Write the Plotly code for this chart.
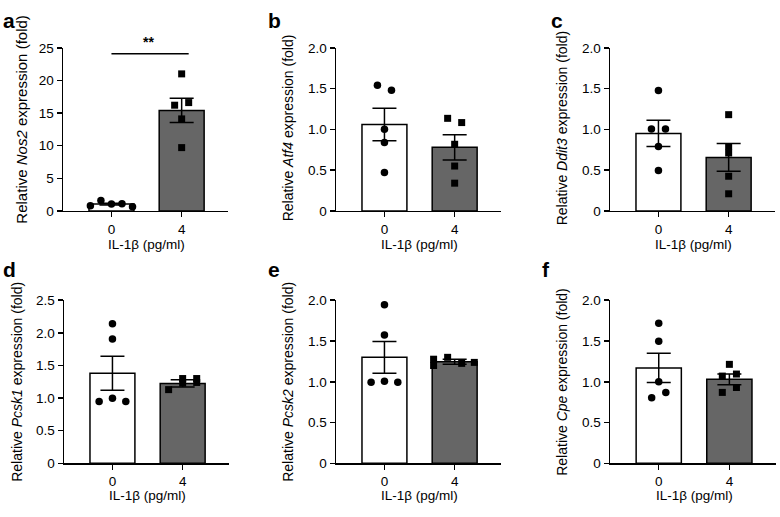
import plotly.graph_objects as go

# ---------------- data ----------------
letters = ["a", "b", "c", "d", "e", "f"]
genes = ["Nos2", "Atf4", "Ddit3", "Pcsk1", "Pcsk2", "Cpe"]
dose_labels = ["0", "4"]
x_title = "IL-1β (pg/ml)"

mean_0 = [1.04, 1.06, 0.95, 1.38, 1.30, 1.17]
mean_4 = [15.4, 0.78, 0.655, 1.225, 1.246, 1.03]
sem_0 = [0.15, 0.20, 0.16, 0.26, 0.195, 0.18]
sem_4 = [1.85, 0.155, 0.17, 0.055, 0.03, 0.065]

pts_0 = [
    [0.8, 1.6, 1.05, 1.1, 0.65],
    [1.54, 1.48, 1.00, 0.84, 0.47],
    [1.476, 1.004, 1.004, 0.79, 0.496],
    [2.14, 1.905, 0.95, 0.997, 0.95],
    [1.944, 1.575, 0.996, 1.008, 0.996],
    [1.718, 1.496, 1.0, 0.806, 0.87],
]
pts_4 = [
    [21.0, 16.2, 16.6, 14.1, 9.7],
    [1.135, 1.083, 0.817, 0.55, 0.34],
    [1.18, 0.79, 0.71, 0.425, 0.21],
    [1.13, 1.30, 1.23, 1.30, 1.24],
    [1.277, 1.30, 1.226, 1.238, 1.20],
    [1.214, 1.07, 1.095, 0.87, 0.93],
]
# horizontal scatter offsets of the dots (layout only)
jit_0 = [
    [-0.3, -0.15, 0, 0.15, 0.3],
    [-0.1, 0.1, 0, 0, 0],
    [0, -0.1, 0.1, 0, 0],
    [0, 0, -0.19, 0, 0.19],
    [0, 0, -0.19, 0, 0.19],
    [0, 0, 0, -0.1, 0.1],
]
jit_4 = [
    [0, -0.1, 0.1, 0, 0],
    [-0.1, 0.1, 0, 0, 0],
    [0, 0, 0, 0, 0],
    [-0.2, 0, 0, 0.2, 0.2],
    [-0.3, -0.1, 0.1, 0.28, -0.3],
    [0, -0.1, 0.1, -0.1, 0.1],
]
y_max = [25, 2.0, 2.0, 2.5, 2.0, 2.0]
y_ticks = [
    [0, 5, 10, 15, 20, 25],
    [0, 0.5, 1.0, 1.5, 2.0],
    [0, 0.5, 1.0, 1.5, 2.0],
    [0, 0.5, 1.0, 1.5, 2.0, 2.5],
    [0, 0.5, 1.0, 1.5, 2.0],
    [0, 0.5, 1.0, 1.5, 2.0],
]
y_ticktext = [
    ["0", "5", "10", "15", "20", "25"],
    ["0", "0.5", "1.0", "1.5", "2.0"],
    ["0", "0.5", "1.0", "1.5", "2.0"],
    ["0", "0.5", "1.0", "1.5", "2.0", "2.5"],
    ["0", "0.5", "1.0", "1.5", "2.0"],
    ["0", "0.5", "1.0", "1.5", "2.0"],
]
sig_label = "**"
sig_y = 24.1

# ---------------- layout helpers ----------------
W, H = 780, 517
FONT = "Liberation Sans, Arial, sans-serif"
# plot areas in pixels (left, right, top, bottom)
boxes = [
    (63, 228, 42, 210), (336, 501, 42, 210), (610, 775, 42, 210),
    (64, 229, 302, 470), (336, 501, 302, 470), (610, 776, 302, 470),
]
ytitle_x = [22, 288, 562, 17, 288, 562]
ytitle_y = [116, 125, 125, 386, 386, 386]
ytitle_size = [15, 14, 14, 14, 14, 14]
letter_pos = [(1, 14), (266, 14), (549, 14), (1, 270), (266, 270), (540, 270)]
xtitle_y = [245, 245, 245, 503, 503, 503]

def px(x):
    return x / W

def py(y):
    return 1 - y / H

fig = go.Figure()
layout = dict(
    width=W, height=H, margin=dict(l=0, r=0, t=0, b=0),
    paper_bgcolor="white", plot_bgcolor="white", showlegend=False,
    font=dict(family=FONT, color="black", size=13),
    annotations=[], shapes=[],
)

for i in range(6):
    n = i + 1
    xa = "x" if n == 1 else f"x{n}"
    ya = "y" if n == 1 else f"y{n}"
    l, r, t, b = boxes[i]

    fig.add_trace(go.Bar(
        x=[0, 1], y=[mean_0[i], mean_4[i]], width=0.64,
        marker=dict(color=["white", "#666666"], line=dict(color="black", width=1.5)),
        error_y=dict(type="data", array=[sem_0[i], sem_4[i]], color="black",
                     thickness=1.5, width=12),
        xaxis=xa, yaxis=ya, hoverinfo="skip",
    ))
    fig.add_trace(go.Scatter(
        x=[0 + j for j in jit_0[i]], y=pts_0[i], mode="markers",
        marker=dict(symbol="circle", size=7.5, color="black"),
        xaxis=xa, yaxis=ya, cliponaxis=False,
    ))
    fig.add_trace(go.Scatter(
        x=[1 + j for j in jit_4[i]], y=pts_4[i], mode="markers",
        marker=dict(symbol="square", size=7, color="black"),
        xaxis=xa, yaxis=ya, cliponaxis=False,
    ))

    layout["xaxis" if n == 1 else f"xaxis{n}"] = dict(
        domain=[px(l), px(r)], anchor=ya, range=[-0.69, 1.66],
        tickvals=[0, 1], ticktext=dose_labels, ticks="outside", ticklen=5,
        tickwidth=1.5, tickcolor="black", showline=True, linecolor="black",
        linewidth=1.5, showgrid=False, zeroline=False,
        tickfont=dict(size=13.5, family=FONT, color="black"),
    )
    layout["yaxis" if n == 1 else f"yaxis{n}"] = dict(
        domain=[py(b), py(t)], anchor=xa, range=[0, y_max[i]],
        tickvals=y_ticks[i], ticktext=y_ticktext[i], ticks="outside",
        ticklen=5, tickwidth=1.5, tickcolor="black", showline=True,
        linecolor="black", linewidth=1.5, showgrid=False, zeroline=False,
        tickfont=dict(size=13.5, family=FONT, color="black"),
    )

    layout["annotations"].append(dict(
        text=f"Relative <i>{genes[i]}</i> expression (fold)", textangle=-90,
        xref="paper", yref="paper", x=px(ytitle_x[i]), y=py(ytitle_y[i]),
        xanchor="center", yanchor="middle", showarrow=False,
        font=dict(size=ytitle_size[i], family=FONT, color="black"),
    ))
    layout["annotations"].append(dict(
        text=x_title, xref=xa, yref="paper", x=0.5, y=py(xtitle_y[i]),
        xanchor="center", yanchor="middle", showarrow=False,
        font=dict(size=13.5, family=FONT, color="black"),
    ))
    lx, ly = letter_pos[i]
    layout["annotations"].append(dict(
        text=f"<b>{letters[i]}</b>", xref="paper", yref="paper",
        x=px(lx), y=py(ly), xanchor="left", yanchor="middle", showarrow=False,
        font=dict(size=21, family=FONT, color="black"),
    ))

# significance bracket in panel a
layout["shapes"].append(dict(
    type="line", xref="x", yref="y", x0=0, x1=1.1, y0=sig_y, y1=sig_y,
    line=dict(color="black", width=1.5),
))
layout["annotations"].append(dict(
    text=f"<b>{sig_label}</b>", xref="x", yref="y", x=0.53, y=sig_y,
    yanchor="bottom", showarrow=False, yshift=2,
    font=dict(size=14, family=FONT, color="black"),
))

fig.update_layout(**layout)
fig.write_html(
    "out.html",
    config={"displayModeBar": False, "staticPlot": True},
    post_script="document.body.style.margin='0';document.body.style.overflow='hidden';",
)
